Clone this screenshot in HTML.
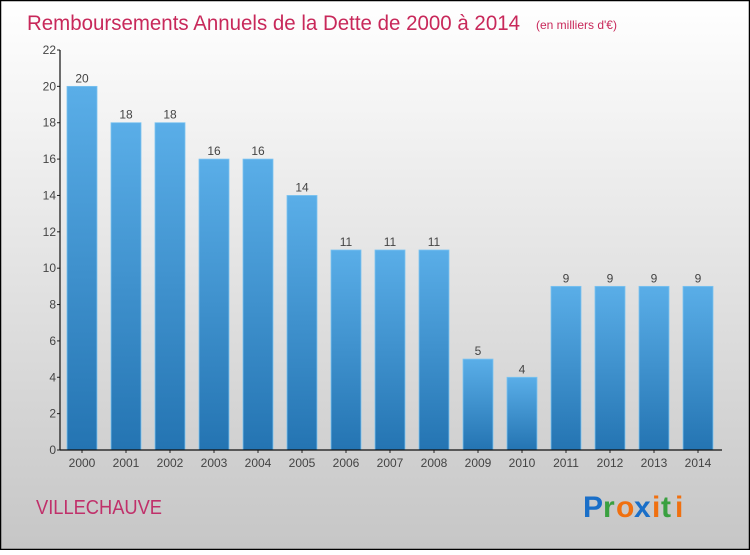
<!DOCTYPE html>
<html><head><meta charset="utf-8"><style>
html,body{margin:0;padding:0;}
body{width:750px;height:550px;overflow:hidden;font-family:"Liberation Sans",sans-serif;}
</style></head><body>
<svg id="chart" width="750" height="550" xmlns="http://www.w3.org/2000/svg">
<defs>
<linearGradient id="bg" x1="0" y1="0" x2="0" y2="1"><stop offset="0" stop-color="#ffffff"/><stop offset="1" stop-color="#c6c6c6"/></linearGradient>
<linearGradient id="bar" x1="0" y1="0" x2="0" y2="1"><stop offset="0" stop-color="#5aaee8"/><stop offset="1" stop-color="#2474b2"/></linearGradient>
</defs>
<rect x="0.5" y="0.5" width="749" height="549" fill="url(#bg)" stroke="#000" stroke-width="1.5"/>
<text x="27" y="30" font-size="21" fill="#c8285a" textLength="493" lengthAdjust="spacingAndGlyphs">Remboursements Annuels de la Dette de 2000 à 2014</text>
<text x="536" y="29" font-size="12" fill="#c8285a">(en milliers d'€)</text>
<g id="plot"></g>
<text x="36" y="514" font-size="20" fill="#c0306a" textLength="126" lengthAdjust="spacingAndGlyphs">VILLECHAUVE</text>
<g font-size="30" font-weight="bold" font-family="'Liberation Sans',sans-serif">
<text x="583" y="517" fill="#1a6fc8">P</text>
<text x="603" y="517" fill="#3aa040">r</text>
<text x="616" y="517" fill="#f07010">o</text>
<text x="634" y="517" fill="#1a6fc8">x</text>
<text x="652" y="517" fill="#f07010">i</text>
<text x="661" y="517" fill="#3aa040">t</text>
<text x="675" y="517" fill="#f07010">i</text>
</g>
</svg>
<script>
const categories=["2000","2001","2002","2003","2004","2005","2006","2007","2008","2009","2010","2011","2012","2013","2014"];
const values=[20,18,18,16,16,14,11,11,11,5,4,9,9,9,9];
const yTicks=[0,2,4,6,8,10,12,14,16,18,20,22];
const NS="http://www.w3.org/2000/svg";
const g=document.getElementById('plot');
const y0=450,yTop=50,yMax=22,x0=60;
const y=v=>y0-(v/yMax)*(y0-yTop);
const x=i=>82+i*44;
function el(t,a,p){const e=document.createElementNS(NS,t);for(const k in a)e.setAttribute(k,a[k]);(p||g).appendChild(e);return e;}
yTicks.forEach(t=>{
 const l=el('line',{x1:x0-3,x2:x0,y1:y(t),y2:y(t),stroke:'#222'});
 
 
 const tx=el('text',{x:x0-4,y:y(t)+4,'font-size':12,fill:'#444','text-anchor':'end'});
 tx.textContent=t;
 
 
});
categories.forEach((c,i)=>{
 const v=values[i];
 const r=el('rect',{x:x(i)-15,y:y(v),width:30,height:y0-y(v),fill:'url(#bar)',stroke:'#7cc4f0','stroke-width':0.8});
 
 
 const vl=el('text',{x:x(i),y:y(v)-4,'font-size':12,fill:'#444','text-anchor':'middle'});
 vl.textContent=v;
 
 
 const tk=el('line',{x1:x(i),x2:x(i),y1:y0,y2:y0+3,stroke:'#222'});
 
 
 const xl=el('text',{x:x(i),y:y0+17,'font-size':12,fill:'#444','text-anchor':'middle'});
 xl.textContent=c;
 
 
});
const ya=el('line',{x1:x0,x2:x0,y1:yTop,y2:y0,stroke:'#111','stroke-width':1.2});


const xa=el('line',{x1:x0,x2:722,y1:y0,y2:y0,stroke:'#111','stroke-width':1.2});


</script>
</body></html>
